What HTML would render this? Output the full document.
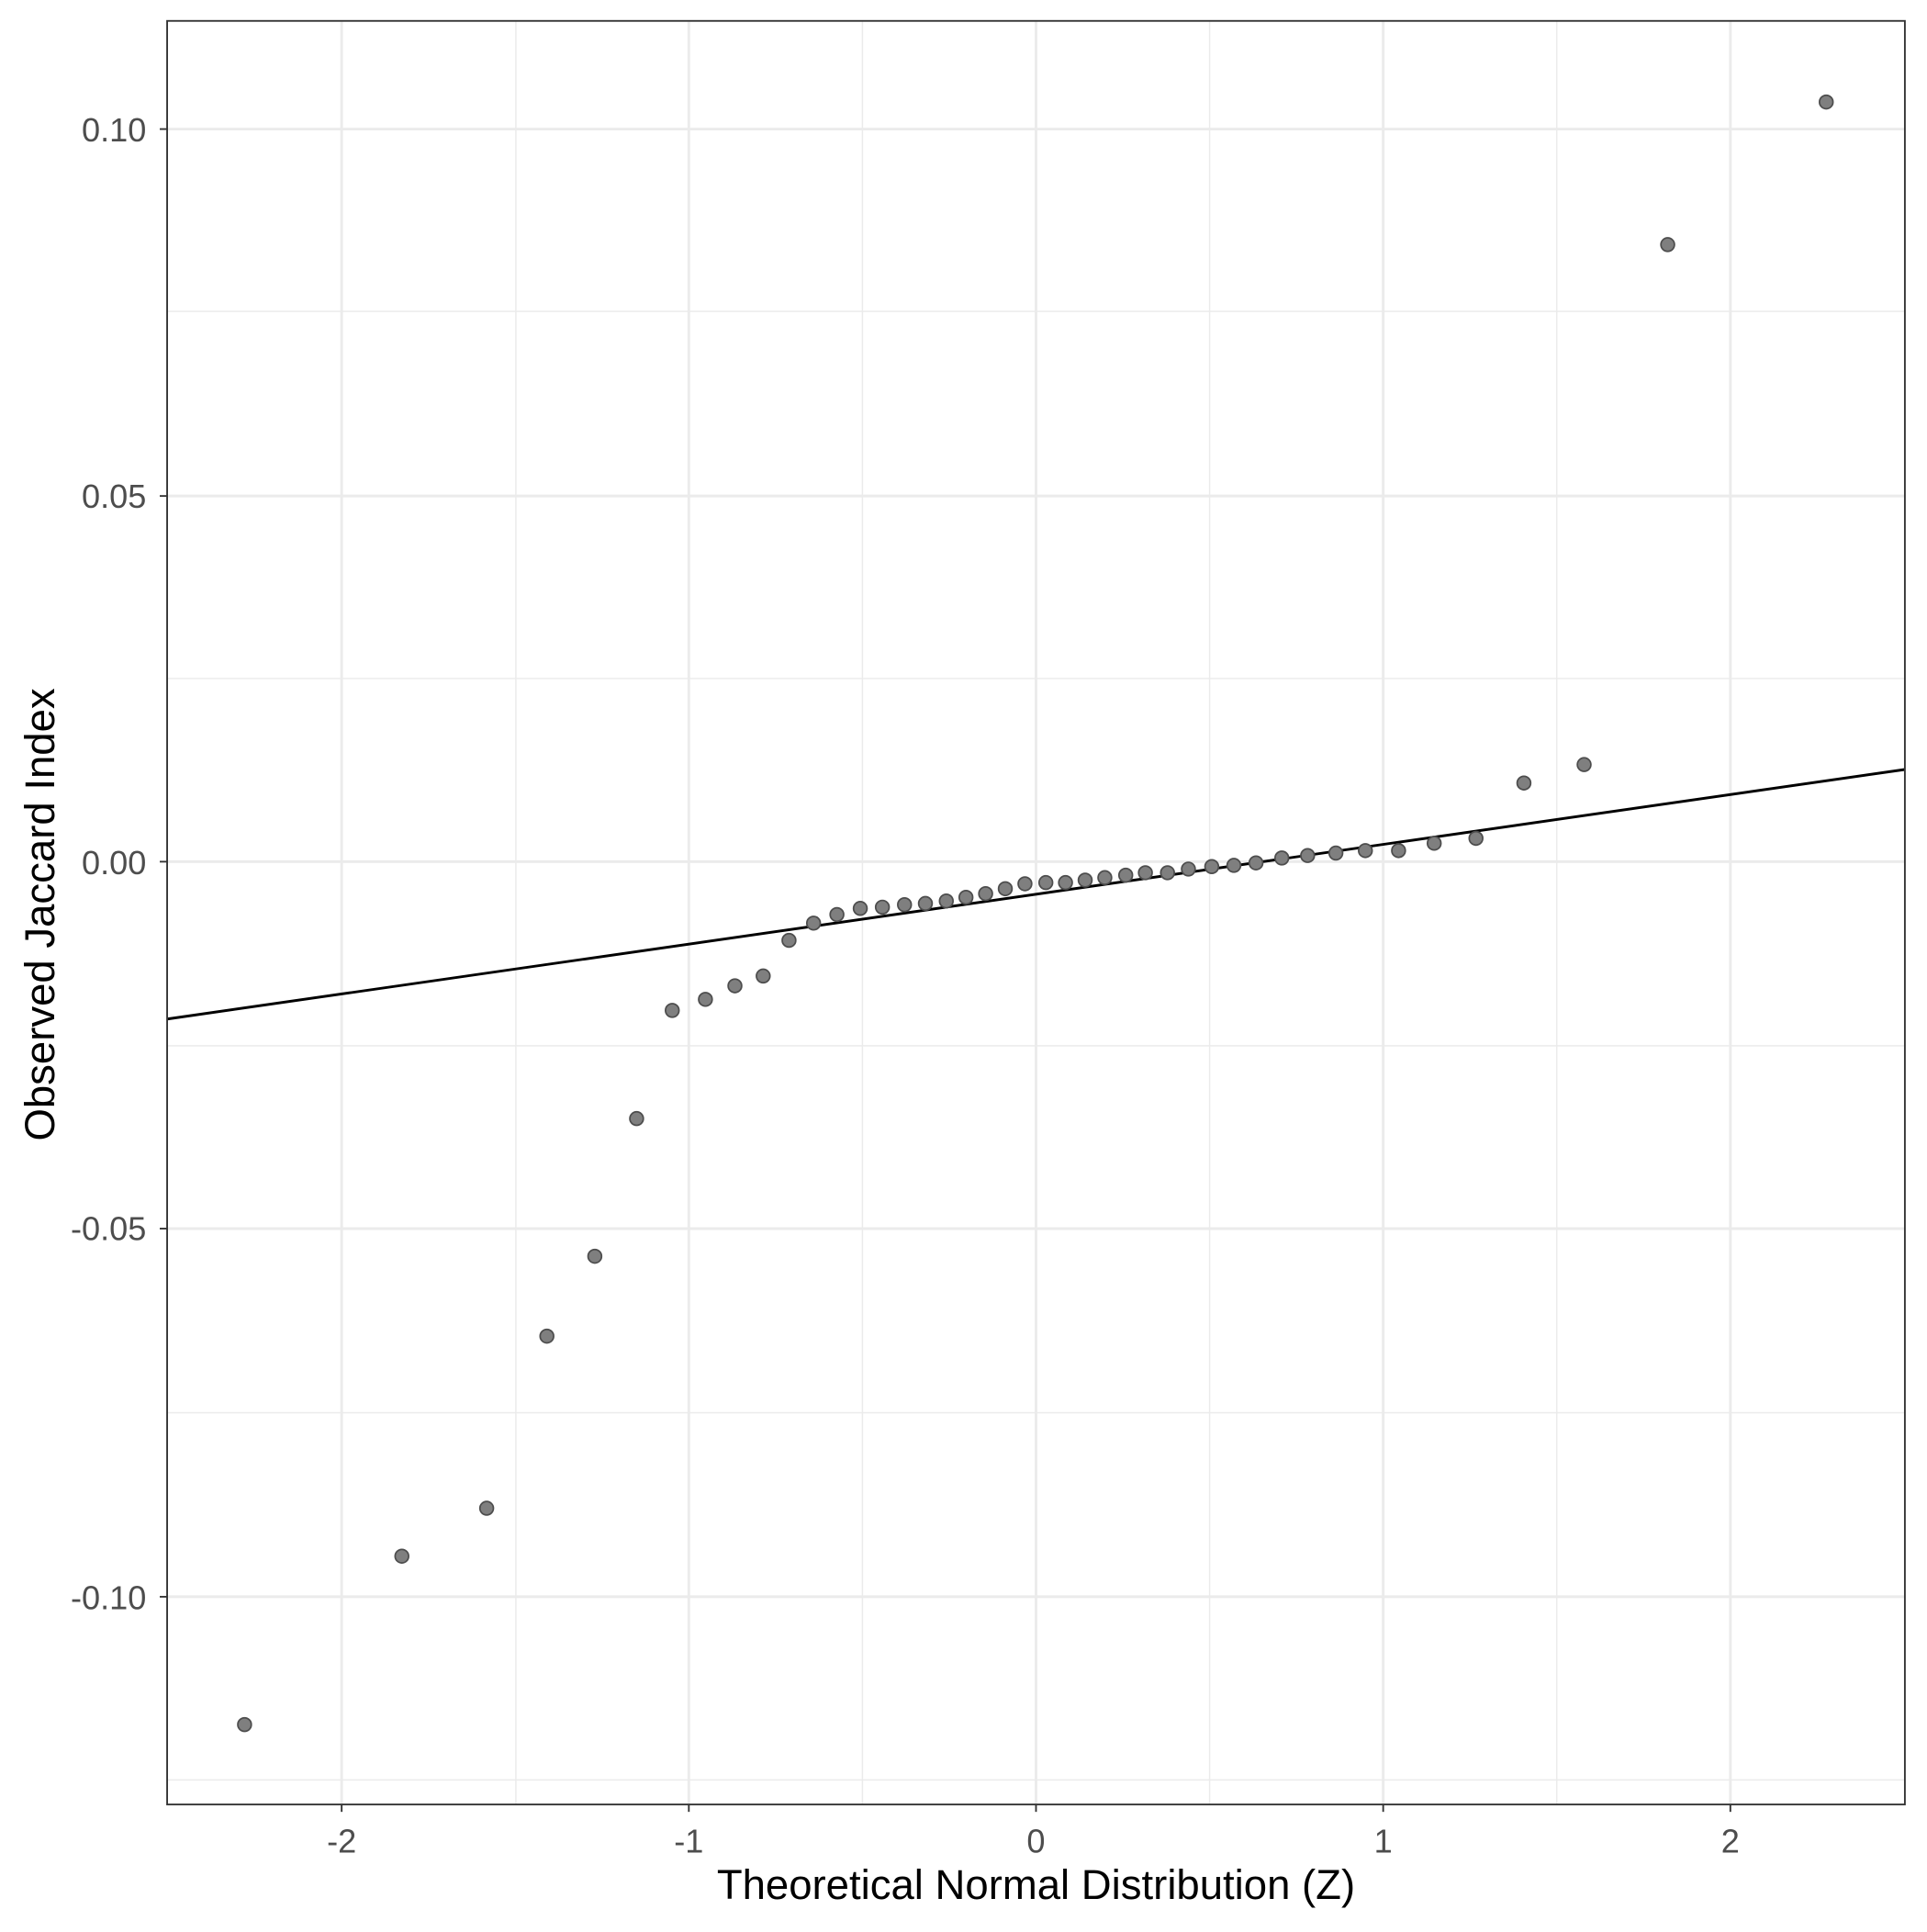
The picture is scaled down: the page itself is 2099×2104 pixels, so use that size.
<!DOCTYPE html>
<html><head><style>html,body{margin:0;padding:0;background:#fff}</style></head><body>
<svg width="2099" height="2099" viewBox="0 0 1568 1568" xmlns="http://www.w3.org/2000/svg" font-family="Liberation Sans, sans-serif">
<rect width="1568" height="1568" fill="#fff"/>
<g stroke="#ebebeb" stroke-width="1.1">
<line x1="419.75" y1="17" x2="419.75" y2="1468"/><line x1="701.75" y1="17" x2="701.75" y2="1468"/><line x1="984.25" y1="17" x2="984.25" y2="1468"/><line x1="1266.75" y1="17" x2="1266.75" y2="1468"/>
<line x1="136" y1="253.3" x2="1550" y2="253.3"/><line x1="136" y1="552" x2="1550" y2="552"/><line x1="136" y1="850.8" x2="1550" y2="850.8"/><line x1="136" y1="1149.3" x2="1550" y2="1149.3"/><line x1="136" y1="1448" x2="1550" y2="1448"/>
</g>
<g stroke="#ebebeb" stroke-width="2.2">
<line x1="278" y1="17" x2="278" y2="1468"/><line x1="560.5" y1="17" x2="560.5" y2="1468"/><line x1="843" y1="17" x2="843" y2="1468"/><line x1="1125.5" y1="17" x2="1125.5" y2="1468"/><line x1="1408" y1="17" x2="1408" y2="1468"/>
<line x1="136" y1="105" x2="1550" y2="105"/><line x1="136" y1="403.5" x2="1550" y2="403.5"/><line x1="136" y1="701" x2="1550" y2="701"/><line x1="136" y1="999.5" x2="1550" y2="999.5"/><line x1="136" y1="1299" x2="1550" y2="1299"/>
</g>
<line x1="136" y1="829" x2="1550" y2="626" stroke="#000" stroke-width="2.2"/>
<g fill="#7f7f7f" stroke="#4d4d4d" stroke-width="1.3">
<circle cx="199" cy="1403" r="5.5"/><circle cx="327" cy="1266" r="5.5"/><circle cx="396" cy="1227" r="5.5"/><circle cx="445" cy="1087" r="5.5"/><circle cx="484" cy="1022" r="5.5"/><circle cx="518" cy="910" r="5.5"/><circle cx="547" cy="822" r="5.5"/><circle cx="574" cy="813" r="5.5"/><circle cx="598" cy="802" r="5.5"/><circle cx="621" cy="794" r="5.5"/><circle cx="642" cy="765" r="5.5"/><circle cx="662" cy="751" r="5.5"/><circle cx="681" cy="744" r="5.5"/><circle cx="700" cy="739" r="5.5"/><circle cx="718" cy="738" r="5.5"/><circle cx="736" cy="736" r="5.5"/><circle cx="753" cy="735" r="5.5"/><circle cx="770" cy="733" r="5.5"/><circle cx="786" cy="730" r="5.5"/><circle cx="802" cy="727" r="5.5"/><circle cx="818" cy="723" r="5.5"/><circle cx="834" cy="719" r="5.5"/><circle cx="851" cy="718" r="5.5"/><circle cx="867" cy="718" r="5.5"/><circle cx="883" cy="716" r="5.5"/><circle cx="899" cy="714" r="5.5"/><circle cx="916" cy="712" r="5.5"/><circle cx="932" cy="710" r="5.5"/><circle cx="950" cy="710" r="5.5"/><circle cx="967" cy="707" r="5.5"/><circle cx="986" cy="705" r="5.5"/><circle cx="1004" cy="704" r="5.5"/><circle cx="1022" cy="702" r="5.5"/><circle cx="1043" cy="698" r="5.5"/><circle cx="1064" cy="696" r="5.5"/><circle cx="1087" cy="694" r="5.5"/><circle cx="1111" cy="692" r="5.5"/><circle cx="1138" cy="692" r="5.5"/><circle cx="1167" cy="686" r="5.5"/><circle cx="1201" cy="682" r="5.5"/><circle cx="1240" cy="637" r="5.5"/><circle cx="1289" cy="622" r="5.5"/><circle cx="1357" cy="199" r="5.5"/><circle cx="1486" cy="83" r="5.5"/>
</g>
<rect x="136" y="17" width="1414" height="1451" fill="none" stroke="#333" stroke-width="1.4"/>
<g stroke="#333" stroke-width="1.4">
<line x1="278" y1="1468" x2="278" y2="1474"/><line x1="560.5" y1="1468" x2="560.5" y2="1474"/><line x1="843" y1="1468" x2="843" y2="1474"/><line x1="1125.5" y1="1468" x2="1125.5" y2="1474"/><line x1="1408" y1="1468" x2="1408" y2="1474"/>
<line x1="130" y1="105" x2="136" y2="105"/><line x1="130" y1="403.5" x2="136" y2="403.5"/><line x1="130" y1="701" x2="136" y2="701"/><line x1="130" y1="999.5" x2="136" y2="999.5"/><line x1="130" y1="1299" x2="136" y2="1299"/>
</g>
<g fill="#4d4d4d" font-size="27" text-anchor="middle">
<text x="278" y="1507">-2</text><text x="560.5" y="1507">-1</text><text x="843" y="1507">0</text><text x="1125.5" y="1507">1</text><text x="1408" y="1507">2</text>
</g>
<g fill="#4d4d4d" font-size="27" text-anchor="end">
<text x="119" y="115">0.10</text><text x="119" y="413">0.05</text><text x="119" y="711">0.00</text><text x="119" y="1009">-0.05</text><text x="119" y="1309">-0.10</text>
</g>
<text x="843" y="1545" font-size="34" text-anchor="middle" fill="#000">Theoretical Normal Distribution (Z)</text>
<text transform="translate(44,744) rotate(-90)" font-size="34" text-anchor="middle" fill="#000">Observed Jaccard Index</text>
</svg>
</body></html>
